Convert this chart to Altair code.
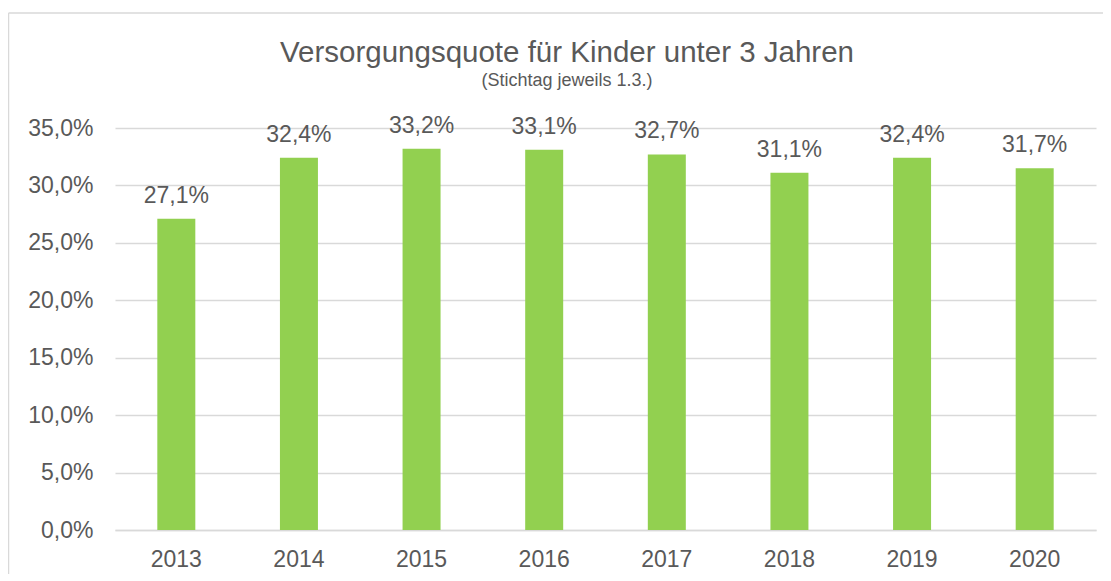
import altair as alt
import pandas as pd

years = ["2013", "2014", "2015", "2016", "2017", "2018", "2019", "2020"]
values = [27.1, 32.4, 33.2, 33.1, 32.7, 31.1, 32.4, 31.5]
labels = ["27,1%", "32,4%", "33,2%", "33,1%", "32,7%", "31,1%", "32,4%", "31,7%"]
title_text = "Versorgungsquote für Kinder unter 3 Jahren"
subtitle_text = "(Stichtag jeweils 1.3.)"
y_ticks = [0, 5, 10, 15, 20, 25, 30, 35]

df = pd.DataFrame({"year": years, "value": values, "label": labels})

W, H = 981, 402
FONT = "Liberation Sans"
TXT = "#595959"
GREEN = "#92D050"
GRID = "#D9D9D9"

x = alt.X("year:N", title=None, sort=years,
          scale=alt.Scale(paddingInner=0.69, paddingOuter=0.345),
          axis=alt.Axis(labelAngle=0, labelFont=FONT, labelFontSize=23, labelColor=TXT,
                        ticks=False, domainColor=GRID, domainWidth=1.5, labelPadding=18,
                        labelBaseline="top"))
y = alt.Y("value:Q", title=None,
          scale=alt.Scale(domain=[0, 35], nice=False),
          axis=alt.Axis(values=y_ticks, labelExpr="replace(format(datum.value, '.1f'), '.', ',') + '%'",
                        labelFont=FONT, labelFontSize=23, labelColor=TXT, ticks=False,
                        domain=False, gridColor=GRID, gridWidth=1.5, labelPadding=22))

bars = alt.Chart(df).mark_bar(color=GREEN, size=38).encode(x=x, y=y)
text = alt.Chart(df).mark_text(font=FONT, fontSize=23, color=TXT, baseline="alphabetic", dy=-16).encode(
    x=alt.X("year:N", sort=years), y="value:Q", text="label:N")

one = pd.DataFrame({"a": [0]})
frame_left = alt.Chart(one).mark_rule(stroke=GRID, strokeWidth=1.5).encode(
    x=alt.value(-106.5), y=alt.value(-115), y2=alt.value(H + 80))
frame_top = alt.Chart(one).mark_rule(stroke=GRID, strokeWidth=1.5).encode(
    x=alt.value(-106.5), x2=alt.value(W + 60), y=alt.value(-115))
title = alt.Chart(one).mark_text(font=FONT, fontSize=29.5, color=TXT, baseline="alphabetic", align="center").encode(
    x=alt.value(452), y=alt.value(-66.5), text=alt.value(title_text))
subtitle = alt.Chart(one).mark_text(font=FONT, fontSize=18, color=TXT, baseline="alphabetic", align="center").encode(
    x=alt.value(452), y=alt.value(-42.5), text=alt.value(subtitle_text))

chart = alt.layer(frame_left, frame_top, bars, text, title, subtitle).properties(
    width=W, height=H,
    autosize=alt.AutoSizeParams(type="none"),
    padding={"left": 107, "top": 120, "right": 7, "bottom": 44},
).configure_view(stroke=None)

chart.save("out.html", embed_options={"renderer": "svg", "actions": False})
